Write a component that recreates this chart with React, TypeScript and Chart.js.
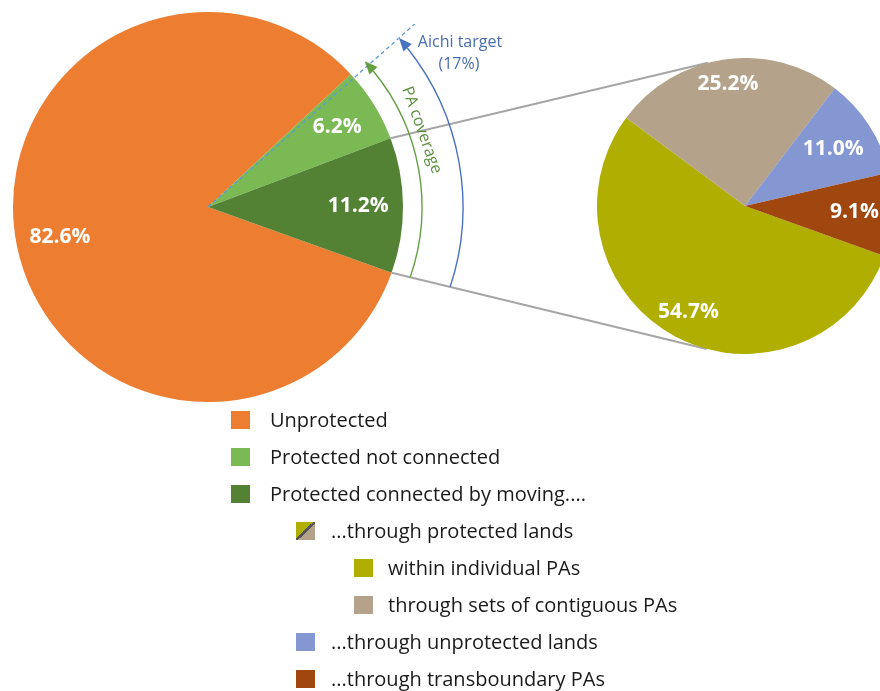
import React, { useEffect, useRef } from "react";
import { Chart, registerables } from "chart.js";
Chart.register(...registerables);

// ---- data ----
const coverageLabels = ["Unprotected", "Protected not connected", "Protected connected by moving...."];
const coverageValues = [82.6, 6.2, 11.2];
const coverageColors = ["#ED7D31", "#7BB954", "#548235"];

const connectedLabels = ["within individual PAs", "through sets of contiguous PAs", "...through unprotected lands", "...through transboundary PAs"];
const connectedValues = [54.7, 25.2, 11.0, 9.1];
const connectedColors = ["#B0AE00", "#B4A38A", "#8597D2", "#A0470F"];

const aichiTargetPct = 17;
const aichiLabel = ["Aichi target", "(17%)"];
const coverageArcLabel = "PA coverage";

const legendLabels = [
  "Unprotected",
  "Protected not connected",
  "Protected connected by moving....",
  "...through protected lands",
  "within individual PAs",
  "through sets of contiguous PAs",
  "...through unprotected lands",
  "...through transboundary PAs",
];
const legendLevels = [0, 0, 0, 1, 2, 2, 1, 1];

// ---- layout (styling only) ----
const W = 880;
const H = 691;
const PIE1 = { cx: 208, cy: 207, r: 195 };
const PIE2 = { cx: 745, cy: 206, r: 148 };
const ROTATION = 109.7;
const FONT = '"Open Sans", "Noto Sans", sans-serif';

const pctLabelPlugin = {
  id: "pctLabels",
  afterDatasetsDraw(chart: any, _args: any, opts: any) {
    const meta = chart.getDatasetMeta(0);
    const ds = chart.data.datasets[0];
    const ctx = chart.ctx;
    ctx.save();
    ctx.font = `bold 21px ${FONT}`;
    ctx.fillStyle = "#ffffff";
    ctx.textAlign = "center";
    ctx.textBaseline = "middle";
    meta.data.forEach((arc: any, i: number) => {
      const p = arc.getProps(["x", "y", "startAngle", "endAngle", "outerRadius"], true);
      const mid = (p.startAngle + p.endAngle) / 2;
      const r = p.outerRadius * (opts.radii?.[i] ?? 0.8);
      ctx.fillText(Number(ds.data[i]).toFixed(1) + "%", p.x + Math.cos(mid) * r, p.y + Math.sin(mid) * r);
    });
    ctx.restore();
  },
};

function circleLineHit(cx: number, cy: number, r: number, x0: number, y0: number, x1: number, y1: number) {
  const dx = x1 - x0, dy = y1 - y0;
  const fx = x0 - cx, fy = y0 - cy;
  const a = dx * dx + dy * dy;
  const b = 2 * (fx * dx + fy * dy);
  const c = fx * fx + fy * fy - r * r;
  const disc = Math.max(b * b - 4 * a * c, 0);
  const t = (-b + Math.sqrt(disc)) / (2 * a);
  return { x: x0 + t * dx, y: y0 + t * dy };
}

function arrowArc(ctx: CanvasRenderingContext2D, cx: number, cy: number, r: number, from: number, tip: number, color: string) {
  const L = 13, Wd = 11;
  const stop = tip + L / r;
  ctx.strokeStyle = color;
  ctx.lineWidth = 1.4;
  ctx.setLineDash([]);
  ctx.beginPath();
  ctx.arc(cx, cy, r, from, stop, true);
  ctx.stroke();
  const tx = cx + Math.cos(tip) * r, ty = cy + Math.sin(tip) * r;
  const dx = Math.sin(tip), dy = -Math.cos(tip);
  const nx = Math.cos(tip), ny = Math.sin(tip);
  const bx = tx - dx * L, by = ty - dy * L;
  ctx.fillStyle = color;
  ctx.beginPath();
  ctx.moveTo(tx, ty);
  ctx.lineTo(bx + nx * Wd / 2, by + ny * Wd / 2);
  ctx.lineTo(bx - nx * Wd / 2, by - ny * Wd / 2);
  ctx.closePath();
  ctx.fill();
}

const annotationPlugin = {
  id: "annotations",
  afterDraw(chart: any) {
    const meta = chart.getDatasetMeta(0);
    const ctx: CanvasRenderingContext2D = chart.ctx;
    const a1 = meta.data[1].getProps(["x", "y", "startAngle", "endAngle", "outerRadius"], true);
    const a2 = meta.data[2].getProps(["x", "y", "startAngle", "endAngle", "outerRadius"], true);
    const cx = a2.x, cy = a2.y, R = a2.outerRadius;
    const topConn = a2.startAngle;
    const bottom = a2.endAngle;
    const topCov = a1.startAngle;
    ctx.save();

    // connector lines to the second pie
    const p0 = { x: cx + Math.cos(topConn) * R, y: cy + Math.sin(topConn) * R };
    const p1 = { x: cx + Math.cos(bottom) * R, y: cy + Math.sin(bottom) * R };
    const q0a = (-104.5 * Math.PI) / 180, q1a = (105 * Math.PI) / 180;
    const q0 = { x: PIE2.cx + Math.cos(q0a) * PIE2.r, y: PIE2.cy + Math.sin(q0a) * PIE2.r };
    const q1 = { x: PIE2.cx + Math.cos(q1a) * PIE2.r, y: PIE2.cy + Math.sin(q1a) * PIE2.r };
    ctx.strokeStyle = "#A6A6A6";
    ctx.lineWidth = 2;
    ctx.beginPath();
    ctx.moveTo(p0.x, p0.y);
    ctx.lineTo(q0.x, q0.y);
    ctx.moveTo(p1.x, p1.y);
    ctx.lineTo(q1.x, q1.y);
    ctx.stroke();

    // Aichi target dashed ray
    const aichiAng = bottom - (aichiTargetPct / 100) * Math.PI * 2;
    ctx.strokeStyle = "#5B9BD5";
    ctx.lineWidth = 1.3;
    ctx.setLineDash([4, 3]);
    ctx.beginPath();
    ctx.moveTo(cx, cy);
    ctx.lineTo(cx + Math.cos(aichiAng) * 276, cy + Math.sin(aichiAng) * 276);
    ctx.stroke();
    ctx.setLineDash([]);

    // green PA coverage arc
    const rg = 214;
    const hg = circleLineHit(cx, cy, rg, p1.x, p1.y, q1.x, q1.y);
    arrowArc(ctx, cx, cy, rg, Math.atan2(hg.y - cy, hg.x - cx), topCov, "#64A043");

    // blue Aichi arc
    const rb = 255;
    const hb = circleLineHit(cx, cy, rb, p1.x, p1.y, q1.x, q1.y);
    arrowArc(ctx, cx, cy, rb, Math.atan2(hb.y - cy, hb.x - cx), aichiAng, "#4A72C0");

    // Aichi label
    const tipX = cx + Math.cos(aichiAng) * rb, tipY = cy + Math.sin(aichiAng) * rb;
    ctx.fillStyle = "#4A6DB3";
    ctx.font = `16px ${FONT}`;
    ctx.textAlign = "center";
    ctx.textBaseline = "middle";
    ctx.fillText(aichiLabel[0], tipX + 61, tipY + 4);
    ctx.fillText(aichiLabel[1], tipX + 60, tipY + 26);

    // PA coverage label
    const span = bottom - topCov;
    const ang = topCov + 0.37 * span;
    const rt = 227;
    ctx.translate(cx + Math.cos(ang) * rt, cy + Math.sin(ang) * rt);
    ctx.rotate(ang + Math.PI / 2);
    ctx.fillStyle = "#5A8F3B";
    ctx.font = `16px ${FONT}`;
    ctx.fillText(coverageArcLabel, 0, 0);
    ctx.restore();
  },
};

function makeOptions(radii: number[], padding: any) {
  return {
    responsive: false,
    animation: false as const,
    rotation: ROTATION,
    layout: { padding },
    plugins: {
      legend: { display: false },
      tooltip: { enabled: false },
      pctLabels: { radii },
    },
  };
}

export default function App() {
  const ref1 = useRef<HTMLCanvasElement>(null);
  const ref2 = useRef<HTMLCanvasElement>(null);

  useEffect(() => {
    const c1 = new Chart(ref1.current!, {
      type: "pie",
      data: {
        labels: coverageLabels,
        datasets: [{ data: coverageValues, backgroundColor: coverageColors, borderWidth: 0 }],
      },
      options: makeOptions([0.775, 0.78, 0.77], {
        left: PIE1.cx - PIE1.r,
        top: PIE1.cy - PIE1.r,
        right: W - (PIE1.cx + PIE1.r),
        bottom: H - (PIE1.cy + PIE1.r),
      }) as any,
      plugins: [pctLabelPlugin, annotationPlugin],
    });
    const c2 = new Chart(ref2.current!, {
      type: "pie",
      data: {
        labels: connectedLabels,
        datasets: [{ data: connectedValues, backgroundColor: connectedColors, borderWidth: 0 }],
      },
      options: makeOptions([0.81, 0.83, 0.71, 0.74], 0) as any,
      plugins: [pctLabelPlugin],
    });
    return () => {
      c1.destroy();
      c2.destroy();
    };
  }, []);

  const swatchColors = [
    coverageColors[0],
    coverageColors[1],
    coverageColors[2],
    `linear-gradient(to bottom right, ${connectedColors[0]} 0 45%, #555 45% 55%, ${connectedColors[1]} 55% 100%)`,
    connectedColors[0],
    connectedColors[1],
    connectedColors[2],
    connectedColors[3],
  ];
  const levelSquareX = [231, 296, 354];
  const levelTextX = [270, 331, 388];

  return (
    <div
      style={{
        position: "absolute",
        left: 0,
        top: 0,
        width: W,
        height: H,
        overflow: "hidden",
        background: "#fff",
        fontFamily: FONT,
      }}
    >
      <canvas ref={ref1} width={W} height={H} style={{ position: "absolute", left: 0, top: 0 }} />
      <canvas
        ref={ref2}
        width={PIE2.r * 2}
        height={PIE2.r * 2}
        style={{ position: "absolute", left: PIE2.cx - PIE2.r, top: PIE2.cy - PIE2.r }}
      />
      {legendLabels.map((label, i) => {
        const yc = 420 + i * 37;
        const lv = legendLevels[i];
        return (
          <React.Fragment key={i}>
            <div
              style={{
                position: "absolute",
                left: levelSquareX[lv],
                top: yc - 9,
                width: 19,
                height: 18,
                background: swatchColors[i],
              }}
            />
            <div
              style={{
                position: "absolute",
                left: levelTextX[lv],
                top: yc - 15,
                height: 30,
                lineHeight: "30px",
                fontSize: 20,
                color: "#1a1a1a",
                whiteSpace: "nowrap",
              }}
            >
              {label}
            </div>
          </React.Fragment>
        );
      })}
    </div>
  );
}
